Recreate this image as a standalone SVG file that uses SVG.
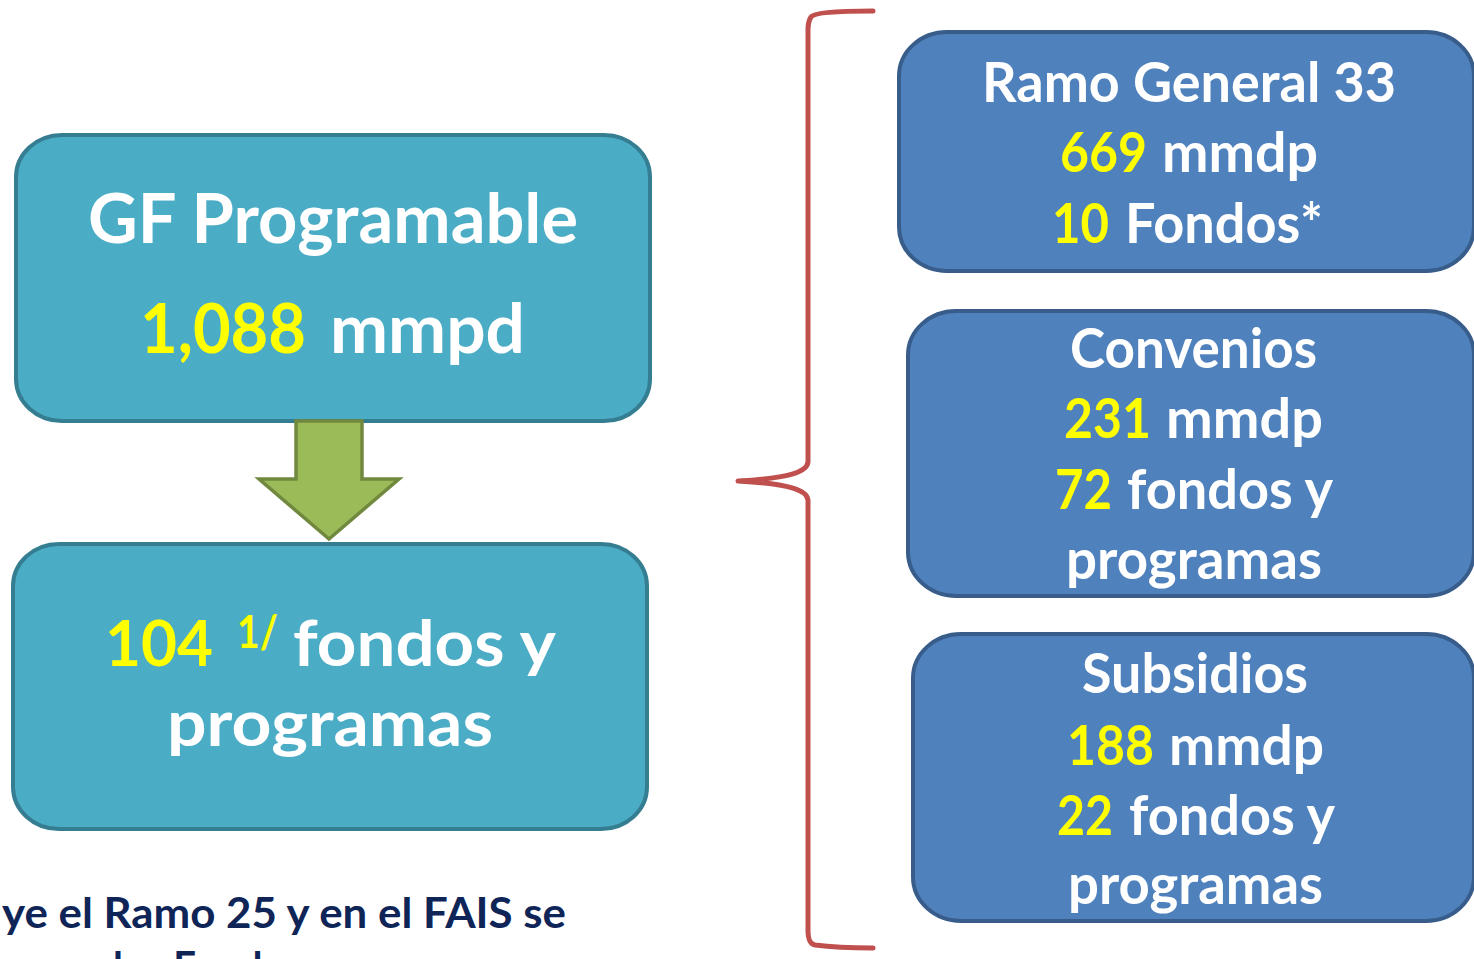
<svg xmlns="http://www.w3.org/2000/svg" width="1474" height="959" viewBox="0 0 1474 959">
<style>
.t{font-family:Lato,"Open Sans","Liberation Sans",sans-serif;font-weight:bold;fill:#FFFFFF}
.y{fill:#FFFF00}
.lb{fill:#4BACC6;stroke:#357D91;stroke-width:4}
.rb{fill:#4F81BD;stroke:#385D8A;stroke-width:4}
.note{font-family:Lato,"Open Sans","Liberation Sans",sans-serif;font-weight:bold;fill:#0F2557}
</style>
<rect width="1474" height="959" fill="#FFFFFF"/>
<g id="gf-programable">
<rect class="lb" x="16" y="135" width="634" height="286" rx="46" ry="42"/>
<text class="t" x="88" y="243" font-size="69" textLength="490" lengthAdjust="spacingAndGlyphs">GF Programable</text>
<text class="t y" x="140" y="353" font-size="69" textLength="166" lengthAdjust="spacingAndGlyphs">1,088</text>
<text class="t" x="330" y="353" font-size="69" textLength="195" lengthAdjust="spacingAndGlyphs">mmpd</text>
</g>
<g id="fondos-programas">
<rect class="lb" x="13" y="544" width="634" height="285" rx="46" ry="42"/>
<text class="t y" x="105" y="666" font-size="64" textLength="108" lengthAdjust="spacingAndGlyphs">104</text>
<text class="t y" x="237" y="648" font-size="46" textLength="41" lengthAdjust="spacingAndGlyphs">1/</text>
<text class="t" x="293" y="666" font-size="64" textLength="263" lengthAdjust="spacingAndGlyphs">fondos y</text>
<text class="t" x="167" y="746" font-size="64" textLength="326" lengthAdjust="spacingAndGlyphs">programas</text>
</g>
<g id="connectors">
<path d="M296,421 L362,421 L362,479 L399,479 L329,539 L259,479 L296,479 Z" fill="#9BBB59" stroke="#71893F" stroke-width="3.5" stroke-linejoin="miter"/>
<path d="M873,11 C845,11 814,12 811,17 C809,20 808,24 808,30 L808,462 C807,472 790,478 738,481 C790,484 807,490 808,500 L808,930 C808,940 810,944 815,945 C830,947 850,948 873,948" fill="none" stroke="#C0504D" stroke-width="5" stroke-linecap="round" stroke-linejoin="round"/>
</g>
<g id="ramo33">
<rect class="rb" x="899" y="32" width="575" height="239" rx="48" ry="44"/>
<text class="t" x="982" y="102" font-size="56" textLength="414" lengthAdjust="spacingAndGlyphs">Ramo General 33</text>
<text class="t y" x="1060" y="172" font-size="56" textLength="87" lengthAdjust="spacingAndGlyphs">669</text>
<text class="t" x="1162" y="172" font-size="56" textLength="156" lengthAdjust="spacingAndGlyphs">mmdp</text>
<text class="t y" x="1052" y="243" font-size="56" textLength="57" lengthAdjust="spacingAndGlyphs">10</text>
<text class="t" x="1125" y="243" font-size="56" textLength="198" lengthAdjust="spacingAndGlyphs">Fondos*</text>
</g>
<g id="convenios">
<rect class="rb" x="908" y="311" width="566" height="285" rx="48" ry="44"/>
<text class="t" x="1070" y="368" font-size="56" textLength="247" lengthAdjust="spacingAndGlyphs">Convenios</text>
<text class="t y" x="1064" y="438" font-size="56" textLength="87" lengthAdjust="spacingAndGlyphs">231</text>
<text class="t" x="1166" y="438" font-size="56" textLength="157" lengthAdjust="spacingAndGlyphs">mmdp</text>
<text class="t y" x="1055" y="509" font-size="56" textLength="57" lengthAdjust="spacingAndGlyphs">72</text>
<text class="t" x="1127" y="509" font-size="56" textLength="206" lengthAdjust="spacingAndGlyphs">fondos y</text>
<text class="t" x="1066" y="579" font-size="56" textLength="256" lengthAdjust="spacingAndGlyphs">programas</text>
</g>
<g id="subsidios">
<rect class="rb" x="913" y="634" width="561" height="287" rx="48" ry="44"/>
<text class="t" x="1082" y="693" font-size="56" textLength="226" lengthAdjust="spacingAndGlyphs">Subsidios</text>
<text class="t y" x="1067" y="765" font-size="56" textLength="87" lengthAdjust="spacingAndGlyphs">188</text>
<text class="t" x="1169" y="765" font-size="56" textLength="155" lengthAdjust="spacingAndGlyphs">mmdp</text>
<text class="t y" x="1057" y="835" font-size="56" textLength="56" lengthAdjust="spacingAndGlyphs">22</text>
<text class="t" x="1129" y="835" font-size="56" textLength="206" lengthAdjust="spacingAndGlyphs">fondos y</text>
<text class="t" x="1068" y="904" font-size="56" textLength="255" lengthAdjust="spacingAndGlyphs">programas</text>
</g>
<g id="nota">
<text class="note" x="2" y="928" font-size="42" textLength="564" lengthAdjust="spacingAndGlyphs">ye el Ramo 25 y en el FAIS se</text>
<text class="note" x="113" y="982" font-size="42" textLength="190" lengthAdjust="spacingAndGlyphs">los Fondos</text>
</g>
</svg>
